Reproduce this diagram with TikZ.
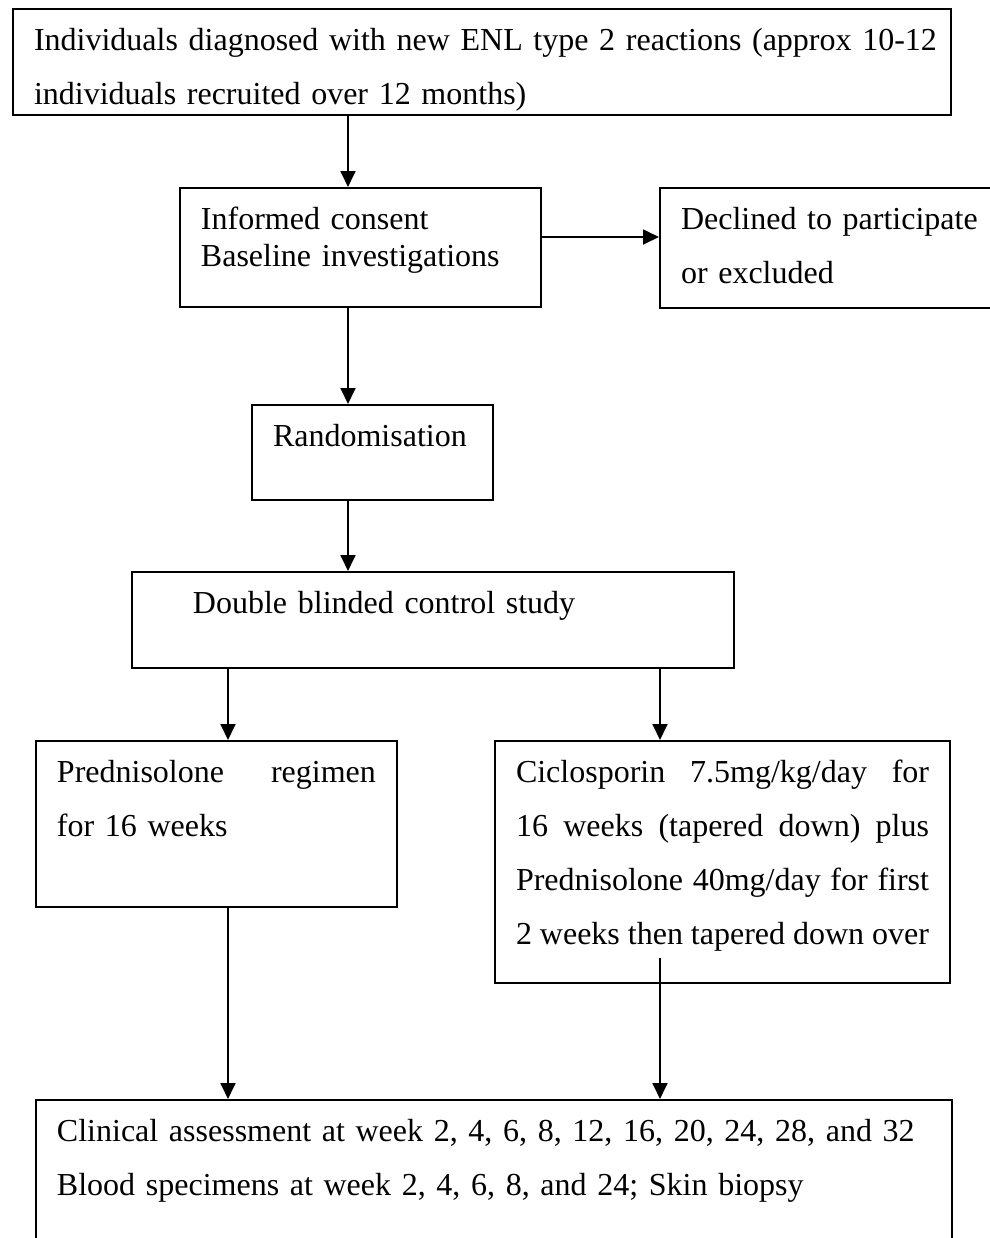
\documentclass[tikz,border=0pt]{standalone}
\usepackage{fontspec}
\setmainfont{Liberation Serif}
\usetikzlibrary{arrows.meta}

\begin{document}
\begin{tikzpicture}[x=0.375pt,y=-0.375pt,>={Triangle[length=6pt,width=5.6pt]}]
  \tikzstyle{box}=[draw,line width=0.75pt,fill=white,anchor=north west,inner xsep=7.875pt,inner ysep=0pt,align=left,text height=15.4pt,font=\fontsize{12}{20.25}\selectfont]
  \tikzstyle{flow}=[->,line width=0.75pt]
  \clip (0,0) rectangle (990,1238);
  \coordinate (spine) at (348,0);
  \coordinate (lfork) at (228,0);
  \coordinate (rfork) at (660,0);
  \coordinate (side) at (0,237);
  \coordinate (cicloout) at (660,958);
  \node[box,text width=336pt,text depth=24.35pt] (intake) at (12,8) {\mbox{Individuals diagnosed with new ENL type 2 reactions (approx 10-12}\\individuals recruited over 12 months)};
  \node[box,font=\fontsize{12}{13.9}\selectfont,text width=119.6pt,text depth=29.2pt] (consent) at (179,187) {Informed consent\\Baseline investigations};
  \node[box,text width=112.1pt,text depth=29.6pt] (declined) at (659,187) {Declined to participate\\or excluded};
  \node[box,text width=74.6pt,text depth=20.2pt] (random) at (251,404) {Randomisation};
  \node[box,text width=210pt,text depth=20.6pt] (blind) at (131,571) {\hspace*{15pt}Double blinded control study};
  \node[box,text width=119.6pt,text depth=46.85pt] (pred) at (35,740) {Prednisolone\hfill regimen\\for 16 weeks};
  \node[box,text width=154.9pt,text depth=75.35pt] (ciclo) at (494,740) {Ciclosporin\hfill 7.5mg/kg/day\hfill for\\16\hfill weeks\hfill (tapered\hfill down)\hfill plus\\Prednisolone\hfill 40mg/day\hfill for\hfill first\\2\hfill weeks\hfill then\hfill tapered\hfill down\hfill over};
  \node[box,text width=327.75pt,text depth=48.35pt] (assess) at (35,1099) {Clinical assessment at week 2, 4, 6, 8, 12, 16, 20, 24, 28, and 32\\Blood specimens at week 2, 4, 6, 8, and 24; Skin biopsy};
  \draw[flow] (intake.south -| spine) -- (consent.north -| spine);
  \draw[flow] (consent.east |- side) -- (declined.west |- side);
  \draw[flow] (consent.south -| spine) -- (random.north -| spine);
  \draw[flow] (random.south -| spine) -- (blind.north -| spine);
  \draw[flow] (blind.south -| lfork) -- (pred.north -| lfork);
  \draw[flow] (blind.south -| rfork) -- (ciclo.north -| rfork);
  \draw[flow] (pred.south -| lfork) -- (assess.north -| lfork);
  \draw[flow] (cicloout) -- (assess.north -| rfork);
\end{tikzpicture}
\end{document}
